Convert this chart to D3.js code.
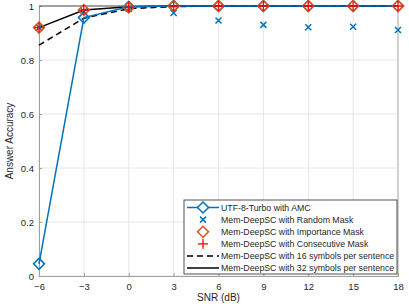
<!DOCTYPE html>
<html>
<head>
<meta charset="utf-8">
<script src="https://cdn.jsdelivr.net/npm/d3@7"></script>
<style>
  body { margin: 0; background: #fff; }
  text { font-family: "Liberation Sans", Arial, sans-serif; fill: #262626; }
</style>
</head>
<body>
<svg width="409" height="307"></svg>
<script>
const snr = [-6, -3, 0, 3, 6, 9, 12, 15, 18];
const utfTurbo = [0.045, 0.957, 0.997, 1, 1, 1, 1, 1, 1];
const randomMask = [0.92, 0.98, 0.99, 0.974, 0.946, 0.93, 0.921, 0.923, 0.911];
const importanceMask = [0.92, 0.985, 0.995, 1, 1, 1, 1, 1, 1];
const consecutiveMask = [0.92, 0.985, 0.995, 1, 1, 1, 1, 1, 1];
const sym16 = [0.855, 0.955, 0.99, 0.998, 1, 1, 1, 1, 1];
const sym32 = [0.92, 0.985, 0.997, 1, 1, 1, 1, 1, 1];
const yTicks = [0, 0.2, 0.4, 0.6, 0.8, 1];
const legendLabels = [
  "UTF-8-Turbo with AMC",
  "Mem-DeepSC with Random Mask",
  "Mem-DeepSC with Importance Mask",
  "Mem-DeepSC with Consecutive Mask",
  "Mem-DeepSC with 16 symbols per sentence",
  "Mem-DeepSC with 32 symbols per sentence"
];

const svg = d3.select("svg");
const mLeft = 39, mRight = 398, mTop = 6, mBottom = 276;

const x = d3.scaleLinear().domain([-6, 18]).range([mLeft, mRight]);
const y = d3.scaleLinear().domain([0, 1]).range([mBottom, mTop]);

const blue = "#0072BD", orange = "#D95319", red = "#FF0000";

// grid
svg.append("g").selectAll("line").data(snr).enter().append("line")
  .attr("x1", d => x(d)).attr("x2", d => x(d)).attr("y1", mTop).attr("y2", mBottom)
  .attr("stroke", "#e6e6e6").attr("stroke-width", 1);
svg.append("g").selectAll("line").data(yTicks).enter().append("line")
  .attr("y1", d => y(d)).attr("y2", d => y(d)).attr("x1", mLeft).attr("x2", mRight)
  .attr("stroke", "#e6e6e6").attr("stroke-width", 1);

// axes
const xAxis = svg.append("g").attr("transform", `translate(0,${mBottom})`)
  .call(d3.axisBottom(x).tickValues(snr).tickSize(-3).tickPadding(7));
const yAxis = svg.append("g").attr("transform", `translate(${mLeft},0)`)
  .call(d3.axisLeft(y).tickValues(yTicks).tickSize(-3).tickPadding(5)
    .tickFormat(d => d === 0 || d === 1 ? d : d3.format(".1f")(d)));
[xAxis, yAxis].forEach(a => {
  a.select(".domain").attr("stroke", "#a0a0a0");
  a.selectAll(".tick line").attr("stroke", "#a0a0a0");
  a.selectAll("text").style("font-size", "9.5px").attr("fill", "#262626")
    .style("font-family", "Liberation Sans, Arial, sans-serif");
});
svg.append("line").attr("x1", mLeft).attr("x2", mRight).attr("y1", mTop).attr("y2", mTop)
  .attr("stroke", "#262626").attr("stroke-width", 0.8);
svg.append("line").attr("x1", mRight).attr("x2", mRight).attr("y1", mTop).attr("y2", mBottom)
  .attr("stroke", "#a0a0a0").attr("stroke-width", 0.8);

svg.append("text").attr("x", (mLeft + mRight) / 2).attr("y", 301)
  .attr("text-anchor", "middle").style("font-size", "10px").text("SNR (dB)");
svg.append("text").attr("transform", `translate(13,${(mTop + mBottom) / 2}) rotate(-90)`)
  .attr("text-anchor", "middle").style("font-size", "10px").text("Answer Accuracy");

const line = d3.line().x((d, i) => x(snr[i])).y(d => y(d));
const plot = svg.append("g");

function drawLine(data, color, dash, width) {
  plot.append("path").datum(data).attr("d", line).attr("fill", "none")
    .attr("stroke", color).attr("stroke-width", width).attr("stroke-dasharray", dash);
}
const diamond = (cx, cy, r) => `M${cx},${cy - r}L${cx + r},${cy}L${cx},${cy + r}L${cx - r},${cy}Z`;
const cross = (cx, cy, r) => `M${cx - r},${cy - r}L${cx + r},${cy + r}M${cx - r},${cy + r}L${cx + r},${cy - r}`;
const plus = (cx, cy, r) => `M${cx - r},${cy}L${cx + r},${cy}M${cx},${cy - r}L${cx},${cy + r}`;

function drawMarkers(data, shape, color, r, w) {
  plot.append("g").selectAll("path").data(data).enter().append("path")
    .attr("d", (d, i) => shape(x(snr[i]), y(d), r))
    .attr("fill", "none").attr("stroke", color).attr("stroke-width", w);
}

drawLine(sym16, "#000", "6,4", 1.5);
drawLine(sym32, "#000", null, 1.5);
drawLine(utfTurbo, blue, null, 1.5);
drawMarkers(utfTurbo, diamond, blue, 5.5, 1.5);
drawMarkers(randomMask, cross, blue, 3, 1.5);
drawMarkers(importanceMask, diamond, orange, 5.5, 1.5);
drawMarkers(consecutiveMask, plus, red, 5, 1.3);

// legend
const lg = svg.append("g");
lg.append("rect").attr("x", 184).attr("y", 200).attr("width", 213).attr("height", 74)
  .attr("fill", "#fff").attr("stroke", "#262626").attr("stroke-width", 0.8);
const rowY = i => 207.5 + i * 12.1;
const sx1 = 187, sx2 = 219, sc = 203;
lg.append("line").attr("x1", sx1).attr("x2", sx2).attr("y1", rowY(0)).attr("y2", rowY(0))
  .attr("stroke", blue).attr("stroke-width", 1.5);
lg.append("path").attr("d", diamond(sc, rowY(0), 5.5)).attr("fill", "#fff").attr("stroke", blue).attr("stroke-width", 1.5);
lg.append("path").attr("d", cross(sc, rowY(1), 3)).attr("fill", "none").attr("stroke", blue).attr("stroke-width", 1.5);
lg.append("path").attr("d", diamond(sc, rowY(2), 5.5)).attr("fill", "none").attr("stroke", orange).attr("stroke-width", 1.5);
lg.append("path").attr("d", plus(sc, rowY(3), 5)).attr("fill", "none").attr("stroke", red).attr("stroke-width", 1.3);
lg.append("line").attr("x1", sx1).attr("x2", sx2).attr("y1", rowY(4)).attr("y2", rowY(4))
  .attr("stroke", "#000").attr("stroke-width", 1.5).attr("stroke-dasharray", "6,4");
lg.append("line").attr("x1", sx1).attr("x2", sx2).attr("y1", rowY(5)).attr("y2", rowY(5))
  .attr("stroke", "#000").attr("stroke-width", 1.5);
lg.selectAll("text.lab").data(legendLabels).enter().append("text")
  .attr("x", 221).attr("y", (d, i) => rowY(i) + 3.2).style("font-size", "8.75px").text(d => d);
</script>
</body>
</html>
